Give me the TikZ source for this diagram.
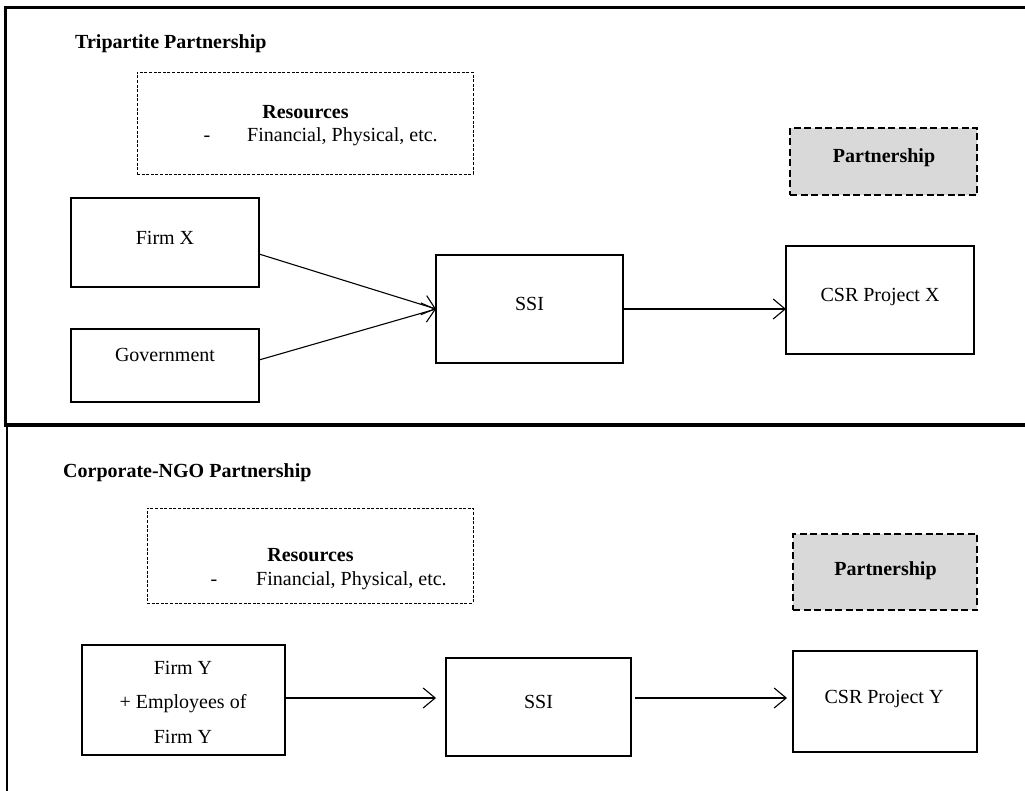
\documentclass[tikz,border=0pt]{standalone}
\usepackage{fontspec}
\setmainfont{Liberation Serif}
\usetikzlibrary{arrows.meta,calc}

\tikzset{
  frame/.style={line width=3pt, line cap=rect},
  box/.style={draw, line width=1.8pt, minimum width=#1, outer sep=0pt, inner sep=0pt},
  resbox/.style={draw, line width=0.9pt, dash pattern=on 3pt off 1.6pt, outer sep=0pt, inner sep=0pt},
  partbox/.style={draw, fill=black!15, line width=2.4pt, dash pattern=on 7pt off 3.5pt, outer sep=0pt, inner sep=0pt},
  txt/.style={anchor=base, inner sep=0pt},
  ltxt/.style={anchor=base west, inner sep=0pt},
  flow/.style={line width=1.1pt, -{Straight Barb[length=12pt,width=20pt,line width=1.1pt]}},
}

\begin{document}
\begin{tikzpicture}[x=1pt, y=-1pt, font=\fontsize{20pt}{24pt}\selectfont]
\useasboundingbox (0,0) rectangle (1025,791);

% outer frame and section divider
\coordinate (tl) at (5,8);
\coordinate (tr) at (1026,8);
\coordinate (ml) at (5,425);
\coordinate (mr) at (1026,425);
\coordinate (bl) at (7,425);
\coordinate (bb) at (7,792);
\draw[frame] (tr) -- (tl) -- (ml);
\draw[line width=4pt] (ml) -- (mr);
\draw[line width=2.6pt] (bl) -- (bb);

% ---------- Tripartite partnership ----------
\node[ltxt, font=\fontsize{20pt}{24pt}\selectfont\bfseries] (t1) at (75,49) {Tripartite Partnership};

\node[resbox, minimum width=336pt, minimum height=102pt] (res1) at (305,123) {};
\node[txt, font=\fontsize{20pt}{24pt}\selectfont\bfseries] (res1h) at (305.5,119) {Resources};
\node[txt] (res1d) at (207,142) {-};
\node[ltxt] (res1t) at (247,142) {Financial, Physical, etc.};

\node[partbox, minimum width=187pt, minimum height=67pt] (part1) at (883.5,161.5) {};
\node[txt, font=\fontsize{20pt}{24pt}\selectfont\bfseries] (part1t) at (884,163) {Partnership};

\node[box=188pt, minimum height=89pt] (firmx) at (165,242.5) {};
\node[txt] (firmxt) at (165,245) {Firm X};

\node[box=188pt, minimum height=73pt] (gov) at (165,365.5) {};
\node[txt] (govt) at (165,362) {Government};

\node[box=187pt, minimum height=108pt] (ssi1) at (529.5,309) {};
\node[txt] (ssi1t) at (529.5,311) {SSI};

\node[box=188pt, minimum height=108pt] (csrx) at (880,300) {};
\node[txt] (csrxt) at (880,302) {CSR Project X};

\draw[flow] ([yshift=-11.5pt]firmx.east) -- (ssi1.west);
\draw[flow] ([yshift=5.5pt]gov.east) -- (ssi1.west);
\draw[flow] (ssi1.east) -- (ssi1.east -| csrx.west);

% ---------- Corporate-NGO partnership ----------
\node[ltxt, font=\fontsize{20pt}{24pt}\selectfont\bfseries] (t2) at (63,477) {Corporate-NGO Partnership};

\node[resbox, minimum width=326pt, minimum height=95pt] (res2) at (310,555.5) {};
\node[txt, font=\fontsize{20pt}{24pt}\selectfont\bfseries] (res2h) at (310.5,561) {Resources};
\node[txt] (res2d) at (214,585) {-};
\node[ltxt] (res2t) at (256,585) {Financial, Physical, etc.};

\node[partbox, minimum width=184pt, minimum height=76pt] (part2) at (885,572) {};
\node[txt, font=\fontsize{20pt}{24pt}\selectfont\bfseries] (part2t) at (885.5,575) {Partnership};

\node[box=203pt, minimum height=110pt] (firmy) at (183.5,700) {};
\node[txt] (firmy1) at (183,674) {Firm Y};
\node[txt] (firmy2) at (183,708) {+ Employees of};
\node[txt] (firmy3) at (183,743) {Firm Y};

\node[box=185pt, minimum height=98pt] (ssi2) at (538.5,707) {};
\node[txt] (ssi2t) at (538.5,708) {SSI};

\node[box=184pt, minimum height=101pt] (csry) at (885,701.5) {};
\node[txt] (csryt) at (884,703) {CSR Project Y};

\coordinate (ya) at ([yshift=2pt]firmy.east);
\draw[flow, shorten >=10pt] (ya) -- (ya -| ssi2.west);
\draw[flow, shorten <=4pt, shorten >=6pt] (ya -| ssi2.east) -- (ya -| csry.west);
\end{tikzpicture}
\end{document}
